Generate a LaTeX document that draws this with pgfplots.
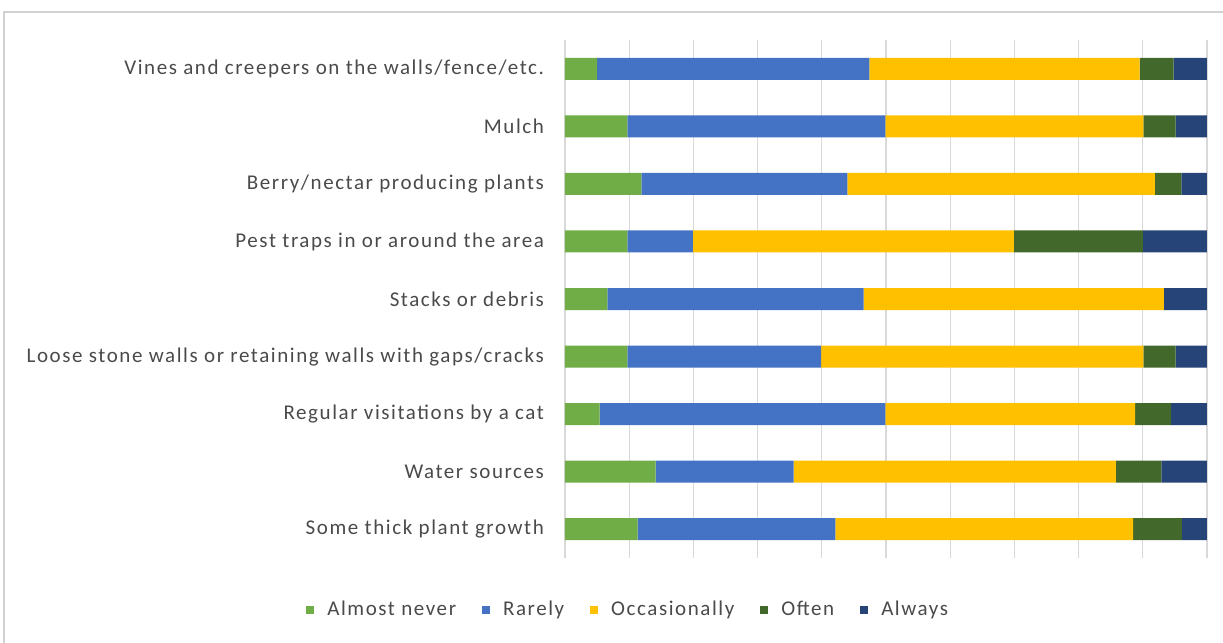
\documentclass[border=0pt]{standalone}
\usepackage{fontspec}
\setmainfont{Carlito}
\newfontfamily\lblfont[LetterSpace=7.5]{Carlito}
\usepackage{pgfplots}
\pgfplotsset{compat=1.18}
\definecolor{cAN}{HTML}{70AD47}
\definecolor{cR}{HTML}{4472C4}
\definecolor{cO}{HTML}{FFC000}
\definecolor{cOf}{HTML}{43682B}
\definecolor{cAl}{HTML}{264478}
\definecolor{lbl}{HTML}{4A4A4A}
\begin{document}
\begin{tikzpicture}[x=1pt,y=1pt]
\path[use as bounding box] (0,0) rectangle (611.5,321.5);
\draw[black!18, line width=0.8pt] (2,0) -- (2,315.5) -- (611.5,315.5);
\begin{axis}[
  at={(282.5pt,42.5pt)}, anchor=south west,
  scale only axis, width=321pt, height=259pt,
  xbar stacked, bar width=11pt,
  xmin=0, xmax=100, ymin=-0.5, ymax=8.5,
  xtick={0,10,...,100}, xticklabels={},
  xmajorgrids, grid style={black!15, line width=0.6pt},
  ytick={0,...,8},
  yticklabels={Some thick plant growth, Water sources, Regular visitations by a cat, Loose stone walls or retaining walls with gaps/cracks, Stacks or debris, Pest traps in or around the area, Berry/nectar producing plants, Mulch, Vines and creepers on the walls/fence/etc.},
  major tick length=0,
  axis line style={draw=none},
  yticklabel style={font=\lblfont\fontsize{10.5}{12}\selectfont, text=lbl, xshift=-7pt},
  legend style={at={(0.1,-0.1)}, anchor=center, draw=none, legend columns=5,
    font=\lblfont\fontsize{10.5}{12}\selectfont, text=lbl,
    /tikz/every odd column/.append style={column sep=4.5pt},
    /tikz/every even column/.append style={column sep=11pt}},
  legend image code/.code={\fill[#1] (0pt,-2pt) rectangle (4pt,2pt);},
]
\addplot[fill=cAN, draw=none] coordinates {(11.3,0) (14.1,1) (5.4,2) (9.7,3) (6.6,4) (9.7,5) (11.9,6) (9.7,7) (5.0,8)};
\addplot[fill=cR, draw=none] coordinates {(30.8,0) (21.5,1) (44.5,2) (30.2,3) (39.9,4) (10.2,5) (32.1,6) (40.2,7) (42.4,8)};
\addplot[fill=cO, draw=none] coordinates {(46.4,0) (50.2,1) (38.9,2) (50.2,3) (46.8,4) (50.0,5) (47.9,6) (40.2,7) (42.1,8)};
\addplot[fill=cOf, draw=none] coordinates {(7.6,0) (7.1,1) (5.6,2) (5.0,3) (0,4) (20.1,5) (4.1,6) (5.0,7) (5.3,8)};
\addplot[fill=cAl, draw=none] coordinates {(3.9,0) (7.1,1) (5.6,2) (4.9,3) (6.7,4) (10.0,5) (4.0,6) (4.9,7) (5.2,8)};
\legend{Almost never, Rarely, Occasionally, Often, Always}
\end{axis}
\end{tikzpicture}
\end{document}
